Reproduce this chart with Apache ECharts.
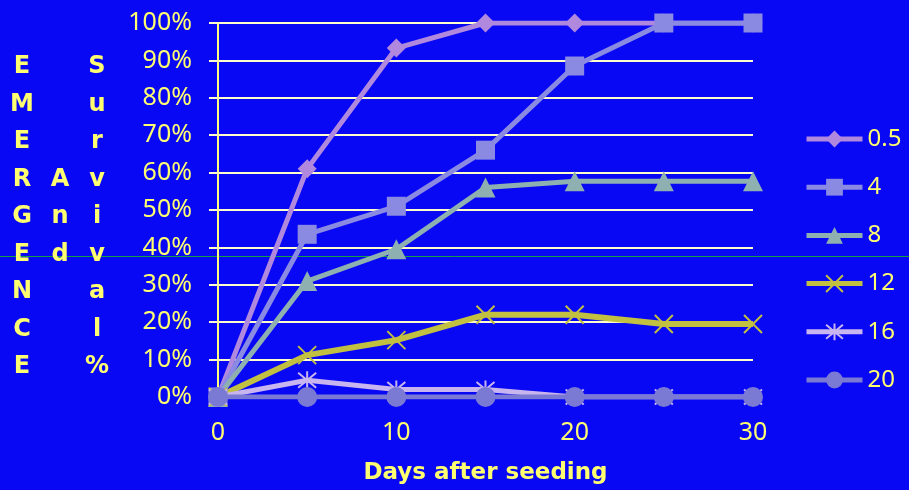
<!DOCTYPE html>
<html>
<head>
<meta charset="utf-8">
<script src="https://cdn.jsdelivr.net/npm/echarts@6/dist/echarts.min.js"></script>
<style>
  html, body { margin: 0; padding: 0; background: #0808f4; }
  #chart { width: 909px; height: 490px; }
</style>
</head>
<body>
<div id="chart"></div>
<script>
// Days after seeding (x positions of every mark)
const days = [0, 5, 10, 15, 20, 25, 30];

// Emergence and survival (%) per seeding depth
const depth05 = [0, 61, 93.3, 100, 100, 100, 100];
const depth4  = [0, 43.5, 51, 66, 88.5, 100, 100];
const depth8  = [0, 31, 39.5, 56, 57.7, 57.7, 57.7];
const depth12 = [0, 11.2, 15.2, 22, 22, 19.5, 19.5];
const depth16 = [0, 4.5, 2, 2, 0, 0, 0];
const depth20 = [0, 0, 0, 0, 0, 0, 0];

const seriesNames = ['0.5', '4', '8', '12', '16', '20'];
const seriesValues = [depth05, depth4, depth8, depth12, depth16, depth20];

// Vertical axis title, one letter per row in three columns
const titleCol1 = ['E', 'M', 'E', 'R', 'G', 'E', 'N', 'C', 'E'];
const titleCol2 = ['', '', '', 'A', 'n', 'd', '', '', ''];
const titleCol3 = ['S', 'u', 'r', 'v', 'i', 'v', 'a', 'l', '%'];
const xTitle = 'Days after seeding';

const yellow = '#ffff70';
const gridColor = '#ffffcc';

const styles = [
  { color: '#b088dd', symbol: 'diamond', size: [19, 19], width: 5, border: 0 },
  { color: '#8a8ae2', symbol: 'rect', size: 19, width: 5, border: 0 },
  { color: '#8fb0b0', symbol: 'triangle', size: 20, width: 5, border: 0 },
  { color: '#c2c040', symbol: 'path://M0,0L10,10M10,0L0,10', size: 18, width: 6, border: 2 },
  { color: '#c8b4ee', symbol: 'path://M0,0L10,10M10,0L0,10M5,-1L5,11', size: 18, width: 5, border: 2 },
  { color: '#7a7ad4', symbol: 'circle', size: 20, width: 5, border: 0 }
];

const series = seriesNames.map((name, i) => {
  const st = styles[i];
  return {
    name: name,
    type: 'line',
    data: days.map((d, j) => [d, seriesValues[i][j]]),
    symbol: st.symbol,
    symbolSize: st.size,
    showAllSymbol: true,
    lineStyle: { color: st.color, width: st.width },
    itemStyle: { color: st.color, borderColor: st.color, borderWidth: st.border, opacity: 1 },
    emphasis: { disabled: true }
  };
});

function column(x, letters) {
  return {
    type: 'text',
    x: x,
    y: 67 - 18.75,
    z: 10,
    style: {
      text: letters.join('\n'),
      fill: yellow,
      font: 'bold 24px "DejaVu Sans"',
      lineHeight: 37.5,
      align: 'center',
      verticalAlign: 'top'
    }
  };
}

const chart = echarts.init(document.getElementById('chart'));
chart.setOption({
  animation: false,
  backgroundColor: '#0808f4',
  grid: { left: 218, right: 156, top: 23, bottom: 93, containLabel: false },
  legend: {
    orient: 'vertical',
    left: 799,
    top: 122,
    itemWidth: 56,
    itemHeight: 21,
    itemGap: 24.2,
    data: seriesNames,
    lineStyle: { width: 5 },
    textStyle: { color: yellow, fontSize: 24, fontFamily: 'Noto Sans' }
  },
  xAxis: {
    type: 'value',
    min: 0,
    max: 30,
    interval: 10,
    name: xTitle,
    nameLocation: 'middle',
    nameGap: 65,
    nameTextStyle: { color: yellow, fontSize: 23, fontWeight: 'bold', fontFamily: 'DejaVu Sans' },
    axisLine: { show: false },
    axisTick: { show: false },
    splitLine: { show: false },
    axisLabel: { color: yellow, fontSize: 25, fontFamily: 'Noto Sans', margin: 23 }
  },
  yAxis: {
    type: 'value',
    min: 0,
    max: 100,
    interval: 10,
    axisLine: { show: true, lineStyle: { color: '#ffff80', width: 2 } },
    axisTick: { show: true, length: 9, lineStyle: { color: gridColor, width: 2 } },
    splitLine: { show: true, lineStyle: { color: gridColor, width: 2 } },
    axisLabel: {
      color: yellow, fontSize: 25, fontFamily: 'Noto Sans', margin: 26,
      formatter: v => v + '%'
    }
  },
  graphic: [
    {
      type: 'line',
      z: 0,
      shape: { x1: 0, y1: 256.5, x2: 909, y2: 256.5 },
      style: { stroke: '#12a040', lineWidth: 1 }
    },
    column(22, titleCol1),
    column(60, titleCol2),
    column(97, titleCol3)
  ],
  series: series
});
</script>
</body>
</html>
